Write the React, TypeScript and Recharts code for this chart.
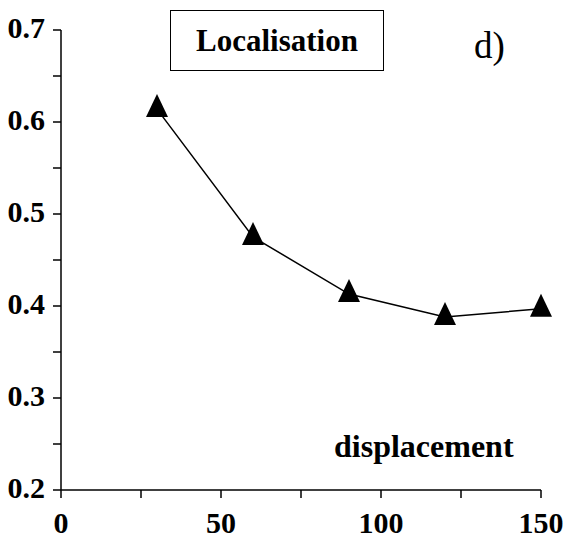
import { LineChart, Line, XAxis, YAxis } from 'recharts';

const displacement = [30, 60, 90, 120, 150];
const localisation = [0.614, 0.475, 0.413, 0.388, 0.397];

const xTicks = [0, 25, 50, 75, 100, 125, 150];
const xLabelled = [0, 50, 100, 150];
const yTicks = [0.2, 0.25, 0.3, 0.35, 0.4, 0.45, 0.5, 0.55, 0.6, 0.65, 0.7];
const yLabelled = ['0.2', '0.3', '0.4', '0.5', '0.6', '0.7'];

const data = displacement.map((d, i) => ({ d, v: localisation[i] }));

const font = '"Liberation Serif", "Times New Roman", serif';

// filled triangle marker, centroid on the data point
const Triangle = ({ cx, cy }: any) => {
  if (cx == null || cy == null) return null;
  return <polygon points={`${cx},${cy - 15} ${cx - 11},${cy + 8} ${cx + 11},${cy + 8}`} fill="#000" />;
};

const XTick = ({ x, y, payload }: any) => {
  if (!xLabelled.includes(payload.value)) return null;
  return (
    <text x={x} y={y + 33} textAnchor="middle" fontFamily={font} fontWeight="bold" fontSize={30} fill="#000">
      {payload.value}
    </text>
  );
};

const YTick = ({ x, y, payload }: any) => {
  const label = Number(payload.value).toFixed(1);
  if (!yLabelled.includes(label) || Math.abs(payload.value * 10 - Math.round(payload.value * 10)) > 1e-6) return null;
  return (
    <text x={x} y={y + 8} textAnchor="end" fontFamily={font} fontWeight="bold" fontSize={30} fill="#000">
      {label}
    </text>
  );
};

export default function App() {
  return (
    <div style={{ position: 'absolute', left: 0, top: 0, width: 566, height: 546, background: '#fff' }}>
      <LineChart width={566} height={546} data={data} margin={{ top: 30, right: 25, bottom: 0, left: 0 }}>
        <XAxis
          dataKey="d"
          type="number"
          domain={[0, 150]}
          ticks={xTicks}
          height={56}
          axisLine={{ stroke: '#000', strokeWidth: 1.5 }}
          tickLine={{ stroke: '#000', strokeWidth: 1.5 }}
          tickSize={8}
          tick={<XTick />}
        />
        <YAxis
          type="number"
          domain={[0.2, 0.7]}
          ticks={yTicks}
          width={61}
          axisLine={{ stroke: '#000', strokeWidth: 1.5 }}
          tickLine={{ stroke: '#000', strokeWidth: 1.5 }}
          tickSize={8}
          tickMargin={8}
          tick={<YTick />}
        />
        <Line
          dataKey="v"
          stroke="#000"
          strokeWidth={1.5}
          dot={<Triangle />}
          activeDot={false}
          isAnimationActive={false}
        />
      </LineChart>
      <div
        style={{
          position: 'absolute',
          left: 170,
          top: 10,
          width: 212,
          height: 59,
          border: '1.5px solid #000',
          display: 'flex',
          alignItems: 'center',
          justifyContent: 'center',
          fontFamily: font,
          fontWeight: 'bold',
          fontSize: 31,
        }}
      >
        Localisation
      </div>
      <div style={{ position: 'absolute', left: 474, top: 25, fontFamily: font, fontSize: 37, lineHeight: 1.15 }}>
        d)
      </div>
      <div
        style={{
          position: 'absolute',
          left: 334,
          top: 428,
          fontFamily: font,
          fontWeight: 'bold',
          fontSize: 32,
          lineHeight: 1.15,
        }}
      >
        displacement
      </div>
    </div>
  );
}
